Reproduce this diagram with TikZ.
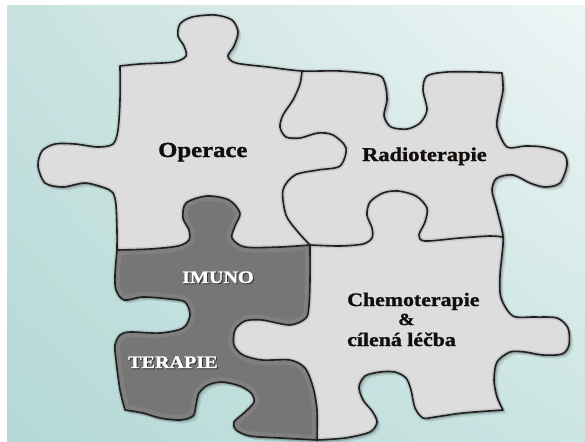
\documentclass[tikz,border=0pt]{standalone}
\usepackage{fontspec}
\usetikzlibrary{shadings}
\setmainfont{Liberation Serif}
\newfontfamily\pzfont[FakeStretch=1.15, BoldFeatures={FakeBold=1.3}]{Liberation Serif}
\definecolor{bgTL}{RGB}{200,226,224}
\definecolor{bgTR}{RGB}{238,245,245}
\definecolor{bgBL}{RGB}{180,217,213}
\definecolor{bgBR}{RGB}{203,229,227}
\definecolor{lightpc}{RGB}{221,221,221}
\definecolor{darkpc}{RGB}{118,118,118}
\definecolor{edgec}{RGB}{32,32,32}
\definecolor{txtc}{RGB}{18,14,12}
% outer outline segments
\newcommand\topedge{-- plot[smooth] coordinates {(120,66) (140,64) (174,62) (186,56) (184,46) (178,36) (180,24) (192,17) (215,15) (232,20) (238,32) (234,46) (228,56) (236,63) (268,67) (302,71) (340,71) (378,75) (385,84) (387,100) (384,116) (391,127) (407,129) (420,123) (427,110) (423,90) (427,76) (447,72) (480,72) (502,73)}}
\newcommand\rightedge{-- plot[smooth] coordinates {(502,73) (503,90) (499,110) (497,127) (507,147) (525,146) (543,147) (563,153) (567,165) (560,183) (545,187) (530,183) (513,175) (497,178) (492,190) (497,210) (503,236) (502,255) (500,275) (501,298) (513,316) (535,317) (557,318) (568,328) (569,345) (562,354) (543,355) (525,352) (510,352) (497,362) (494,380) (497,397) (503,410)}}
\newcommand\chembot{-- plot[smooth] coordinates {(503,410) (463,413) (435,417) (423,418) (415,408) (411,390) (406,378) (395,372) (380,372) (365,376) (359,387) (363,400) (372,411) (377,422) (370,432) (345,438) (317,440)}}
\newcommand\darkbottom{-- plot[smooth] coordinates {(317,440) (280,438) (250,436) (236,430) (234,422) (245,412) (254,402) (251,393) (240,386) (222,382) (208,385) (199,393) (196,405) (193,416) (180,420) (160,418) (143,413) (125,410)}}
\newcommand\darkleft{-- plot[smooth] coordinates {(125,410) (120,390) (116,360) (115,345) (120,335) (130,332) (160,333) (183,328) (190,315) (185,302) (170,299) (143,297) (124,300) (116,290) (115,275) (117,250)}}
\newcommand\opleft{-- plot[smooth] coordinates {(117,250) (117,230) (116,205) (113,193) (105,188) (85,183) (63,187) (45,183) (38,166) (42,151) (55,144) (75,144) (98,147) (113,144) (118,130) (120,100) (120,66)}}
% inner boundaries
\newcommand\topdark{-- plot[smooth] coordinates {(117,250) (150,249) (178,246) (189,240) (189,230) (183,218) (186,203) (207,196) (229,200) (240,213) (235,226) (232,238) (245,247) (280,247) (310,245)}}
\newcommand\darkchemo{-- plot[smooth] coordinates {(310,245) (310,280) (309,305) (306,318) (290,325) (262,320) (245,321) (235,330) (234,345) (243,355) (262,360) (290,360) (305,368) (313,387) (317,410) (317,440)}}
\newcommand\opradio{-- plot[smooth] coordinates {(302,71) (300,84) (293,100) (283,115) (280,127) (286,137) (300,138) (318,133) (333,135) (346,148) (340,166) (318,170) (295,175) (283,190) (286,215) (298,232) (310,245)}}
\newcommand\radiochemo{-- plot[smooth] coordinates {(310,245) (340,246) (363,244) (372,238) (372,228) (367,215) (370,202) (383,193) (398,191) (416,196) (427,208) (425,222) (419,235) (425,241) (460,238) (490,236) (503,237)}}
\newcommand\puzzleoutline{(120,66) \topedge \rightedge \chembot \darkbottom \darkleft \opleft -- cycle}
\newcommand\darkpiece{(117,250) \topdark \darkchemo \darkbottom \darkleft -- cycle}
\tikzset{
  lbl/.style={inner sep=0pt, anchor=base west, text=txtc},
  wlbl/.style={inner sep=0pt, anchor=base west, text=white},
  slbl/.style={inner sep=0pt, anchor=base west, text=black!80},
  pcedge/.style={draw=edgec, line width=1.6pt, line join=round, line cap=round},
  softedge/.style={draw=black, draw opacity=0.10, line width=4.5pt, line join=round},
}
\begin{document}
\begin{tikzpicture}[x=1pt, y=-1pt]
\useasboundingbox (0,0) rectangle (585,441);
\fill[white] (0,0) rectangle (585,441);
\shade[upper left=bgTL, upper right=bgTR, lower left=bgBL, lower right=bgBR] (7,6) rectangle (585,441);
% drop shadow
\begin{scope}[shift={(3.5,3.5)}]
  \fill[black, opacity=0.09] \puzzleoutline;
\end{scope}
\begin{scope}[shift={(1.8,1.8)}]
  \fill[black, opacity=0.10] \puzzleoutline;
\end{scope}
% pieces
\fill[lightpc] \puzzleoutline;
\fill[darkpc] \darkpiece;
\begin{scope}
  \clip \darkpiece;
  \draw[white, opacity=0.08, line width=10pt, line join=round] \darkpiece;
  \draw[white, opacity=0.08, line width=5pt, line join=round] \darkpiece;
\end{scope}
% soft edges
\path[softedge] \puzzleoutline;
\path[softedge] (302,71) \opradio;
\path[softedge] (117,250) \topdark;
\path[softedge] (310,245) \darkchemo;
\path[softedge] (310,245) \radiochemo;
% crisp edges
\path[pcedge] \puzzleoutline;
\path[pcedge] (302,71) \opradio;
\path[pcedge] (117,250) \topdark;
\path[pcedge] (310,245) \darkchemo;
\path[pcedge] (310,245) \radiochemo;
% labels
\node[lbl, font=\pzfont\bfseries\fontsize{21.5}{26}\selectfont] (op) at (158,157) {Operace};
\node[lbl, font=\pzfont\bfseries\fontsize{19.5}{24}\selectfont] (rad) at (362,161) {Radioterapie};
\node[lbl, font=\pzfont\bfseries\fontsize{19}{23}\selectfont] (chem1) at (347,306) {Chemoterapie};
\node[lbl, font=\pzfont\bfseries\fontsize{17}{22}\selectfont] (chem2) at (398,325) {\&};
\node[lbl, font=\pzfont\bfseries\fontsize{19}{23}\selectfont] (chem3) at (347,346) {cílená léčba};
\node[slbl, font=\pzfont\bfseries\fontsize{17.5}{21}\selectfont] (imunoS) at (183,284) {IMUNO};
\node[wlbl, font=\pzfont\bfseries\fontsize{17.5}{21}\selectfont] (imuno) at (182,283) {IMUNO};
\node[slbl, font=\pzfont\bfseries\fontsize{17.5}{21}\selectfont] (terS) at (129,369) {TERAPIE};
\node[wlbl, font=\pzfont\bfseries\fontsize{17.5}{21}\selectfont] (ter) at (128,368) {TERAPIE};
\end{tikzpicture}
\end{document}
